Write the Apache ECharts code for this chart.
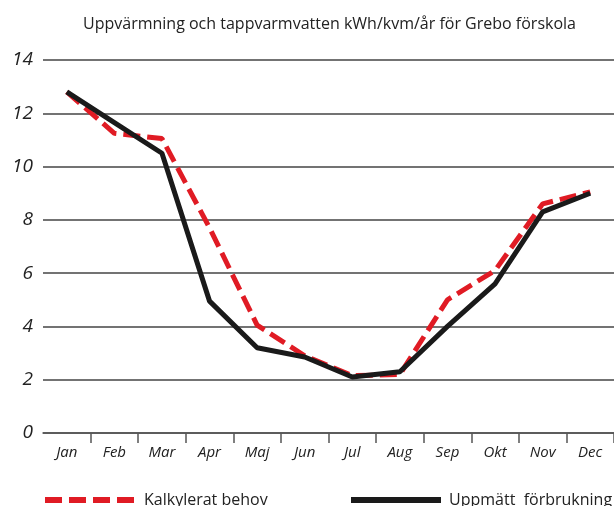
<!DOCTYPE html>
<html>
<head>
<meta charset="utf-8">
<script src="https://cdn.jsdelivr.net/npm/echarts@6/dist/echarts.min.js"></script>
<style>
  html, body { margin: 0; padding: 0; background: #fff; }
  #chart { width: 614px; height: 506px; }
</style>
</head>
<body>
<div id="chart"></div>
<script>
// values
var months = ['Jan', 'Feb', 'Mar', 'Apr', 'Maj', 'Jun', 'Jul', 'Aug', 'Sep', 'Okt', 'Nov', 'Dec'];
var kalkylerat = [12.8, 11.25, 11.05, 7.7, 4.05, 2.9, 2.15, 2.2, 5.0, 6.1, 8.6, 9.05];
var uppmatt = [12.8, 11.65, 10.5, 4.95, 3.2, 2.85, 2.1, 2.3, 4.0, 5.6, 8.3, 9.0];
var yTicks = [0, 2, 4, 6, 8, 10, 12, 14];

var font = '"Open Sans", "Noto Sans", sans-serif';

var chart = echarts.init(document.getElementById('chart'));
chart.setOption({
    animation: false,
    title: {
        text: 'Uppvärmning och tappvarmvatten kWh/kvm/år för Grebo förskola',
        left: 78,
        top: 11,
        textStyle: { fontFamily: font, fontSize: 16, fontWeight: 'normal', color: '#222' }
    },
    legend: [{
        data: ['Kalkylerat behov'],
        left: 37,
        top: 487,
        itemWidth: 89,
        itemHeight: 6,
        itemStyle: { opacity: 0 },
        lineStyle: { width: 6 },
        textStyle: { fontFamily: font, fontSize: 16, color: '#222', padding: [0, 0, 0, 5] }
    }, {
        data: ['Uppmätt  förbrukning'],
        left: 343,
        top: 487,
        itemWidth: 90,
        itemHeight: 6,
        itemStyle: { opacity: 0 },
        lineStyle: { width: 6 },
        textStyle: { fontFamily: font, fontSize: 16, color: '#222', padding: [0, 0, 0, 3] }
    }],
    grid: { left: 43, right: -3, top: 60, bottom: 73 },
    xAxis: {
        type: 'category',
        data: months,
        boundaryGap: true,
        axisLine: { lineStyle: { color: '#555', width: 1.5 } },
        axisTick: {
            show: true,
            length: 10,
            interval: function (index) { return index !== 0; },
            lineStyle: { color: '#555', width: 1.5 }
        },
        axisLabel: {
            fontFamily: font, fontSize: 15, fontStyle: 'italic', color: '#222', margin: 12,
            interval: 0
        }
    },
    yAxis: {
        type: 'value',
        min: yTicks[0],
        max: yTicks[yTicks.length - 1],
        interval: 2,
        axisLine: { show: false },
        axisTick: { show: false },
        axisLabel: {
            fontFamily: font, fontSize: 19, fontStyle: 'italic', color: '#222', margin: 10
        },
        splitLine: { lineStyle: { color: '#444', width: 1.5 } }
    },
    series: [{
        name: 'Kalkylerat behov',
        type: 'line',
        data: kalkylerat,
        symbol: 'none',
        z: 2,
        itemStyle: { color: '#e01b24' },
        lineStyle: { color: '#e01b24', width: 5, type: [17, 7] }
    }, {
        name: 'Uppmätt  förbrukning',
        type: 'line',
        data: uppmatt,
        symbol: 'none',
        z: 3,
        itemStyle: { color: '#1a1a1a' },
        lineStyle: { color: '#1a1a1a', width: 5 }
    }]
});
</script>
</body>
</html>
